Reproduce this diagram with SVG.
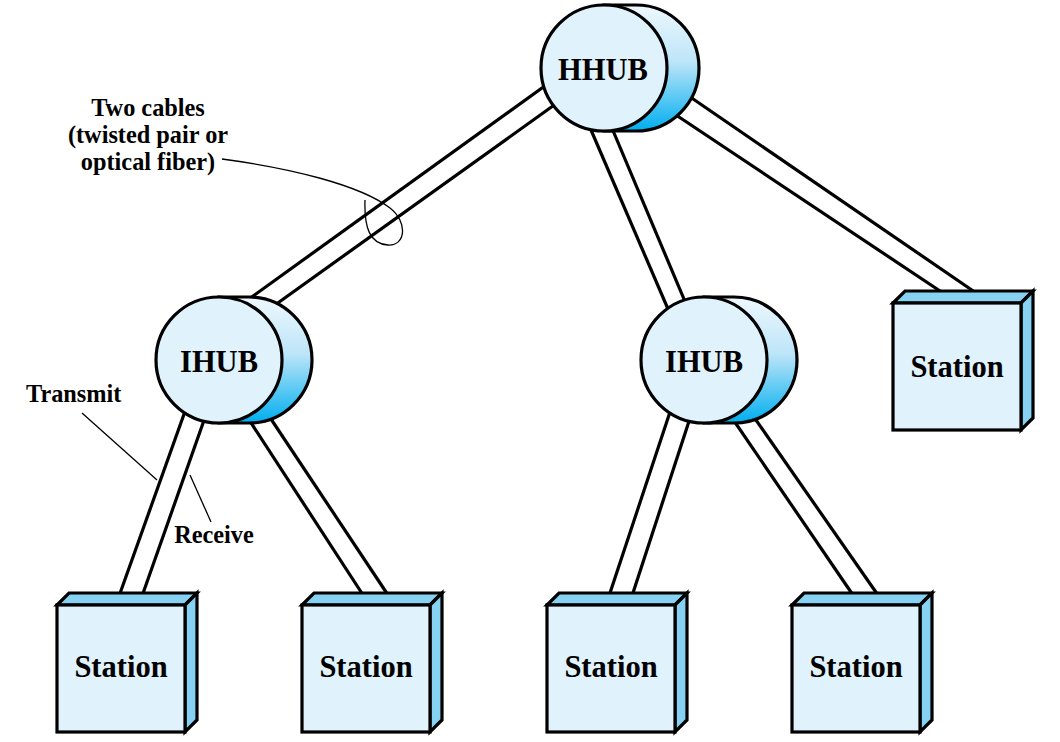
<svg xmlns="http://www.w3.org/2000/svg" width="1060" height="742" viewBox="0 0 1060 742">
<defs>
<linearGradient id="hubGrad" x1="0" y1="0" x2="0" y2="1">
<stop offset="0" stop-color="#eef8fe"/>
<stop offset="0.45" stop-color="#bde5f8"/>
<stop offset="1" stop-color="#00aeef"/>
</linearGradient>
<style>
.cable{stroke:#000;stroke-width:3.2;fill:none}
.leader{stroke:#000;stroke-width:1.3;fill:none}
.front{fill:#e0f3fd;stroke:#000;stroke-width:3.2;stroke-linejoin:miter}
.side{fill:#87d2f2;stroke:#000;stroke-width:3.2;stroke-linejoin:miter}
.back{fill:url(#hubGrad);stroke:#000;stroke-width:3.2}
text{font-family:'Liberation Serif','Times New Roman',Times,serif;font-weight:700;fill:#000}
.big{font-size:30.5px;text-anchor:middle}
.lbl{font-size:24.3px}
</style>
</defs>
<rect width="1060" height="742" fill="#fff"/>
<g id="connectors">
<line class="cable" x1="560" y1="75" x2="242" y2="304"/>
<line class="cable" x1="564" y1="98" x2="268" y2="310"/>
<line class="cable" x1="585" y1="116" x2="671" y2="316"/>
<line class="cable" x1="606" y1="114" x2="689" y2="311"/>
<line class="cable" x1="667" y1="109" x2="949" y2="297"/>
<line class="cable" x1="680" y1="90" x2="982" y2="297"/>
<line class="cable" x1="188" y1="403" x2="118" y2="599"/>
<line class="cable" x1="208" y1="409" x2="141" y2="599"/>
<line class="cable" x1="244" y1="412" x2="365" y2="598"/>
<line class="cable" x1="265" y1="410" x2="390" y2="598"/>
<line class="cable" x1="673" y1="403" x2="608" y2="599"/>
<line class="cable" x1="693" y1="409" x2="631" y2="599"/>
<line class="cable" x1="728" y1="412" x2="855" y2="598"/>
<line class="cable" x1="749" y1="410" x2="880" y2="598"/>
</g>
<g id="HHUB">
<path class="back" d="M604,5 L636,5 A63,63 0 0 1 636,131 L604,131 Z"/>
<circle class="front" cx="604" cy="68" r="63"/>
<text class="big" x="603" y="80">HHUB</text>
</g>
<g id="IHUB-left">
<path class="back" d="M219,297 L249,297 A63,63 0 0 1 249,423 L219,423 Z"/>
<circle class="front" cx="219" cy="360" r="63"/>
<text class="big" x="219" y="372">IHUB</text>
</g>
<g id="IHUB-right">
<path class="back" d="M704,297 L734,297 A63,63 0 0 1 734,423 L704,423 Z"/>
<circle class="front" cx="704" cy="360" r="63"/>
<text class="big" x="704" y="372">IHUB</text>
</g>
<g id="station-right">
<polygon class="side" points="893,303 905,291 1033,291 1021,303"/>
<polygon class="side" points="1021,303 1033,291 1033,418 1021,430"/>
<rect class="front" x="893" y="303" width="128" height="127"/>
<text class="big" x="957" y="377">Station</text>
</g>
<g id="station-1">
<polygon class="side" points="57,605 69,593 197,593 185,605"/>
<polygon class="side" points="185,605 197,593 197,720 185,732"/>
<rect class="front" x="57" y="605" width="128" height="127"/>
<text class="big" x="121" y="677">Station</text>
</g>
<g id="station-2">
<polygon class="side" points="302,605 314,593 442,593 430,605"/>
<polygon class="side" points="430,605 442,593 442,720 430,732"/>
<rect class="front" x="302" y="605" width="128" height="127"/>
<text class="big" x="366" y="677">Station</text>
</g>
<g id="station-3">
<polygon class="side" points="547,605 559,593 687,593 675,605"/>
<polygon class="side" points="675,605 687,593 687,720 675,732"/>
<rect class="front" x="547" y="605" width="128" height="127"/>
<text class="big" x="611" y="677">Station</text>
</g>
<g id="station-4">
<polygon class="side" points="792,605 804,593 932,593 920,605"/>
<polygon class="side" points="920,605 932,593 932,720 920,732"/>
<rect class="front" x="792" y="605" width="128" height="127"/>
<text class="big" x="856" y="677">Station</text>
</g>
<g id="labels">
<text class="lbl" text-anchor="middle" x="148" y="116">Two cables</text>
<text class="lbl" text-anchor="middle" x="148" y="143">(twisted pair or</text>
<text class="lbl" text-anchor="middle" x="148" y="170">optical fiber)</text>
<path class="leader" d="M222,159 C290,168 360,185 390,208 C408,222 406,246 388,245 C370,244 364,228 365,200"/>
<text class="lbl" x="26" y="402">Transmit</text>
<line class="leader" x1="82" y1="413" x2="157" y2="480"/>
<text class="lbl" text-anchor="middle" x="214" y="543">Receive</text>
<line class="leader" x1="190" y1="475" x2="211" y2="522"/>
</g>
</svg>
